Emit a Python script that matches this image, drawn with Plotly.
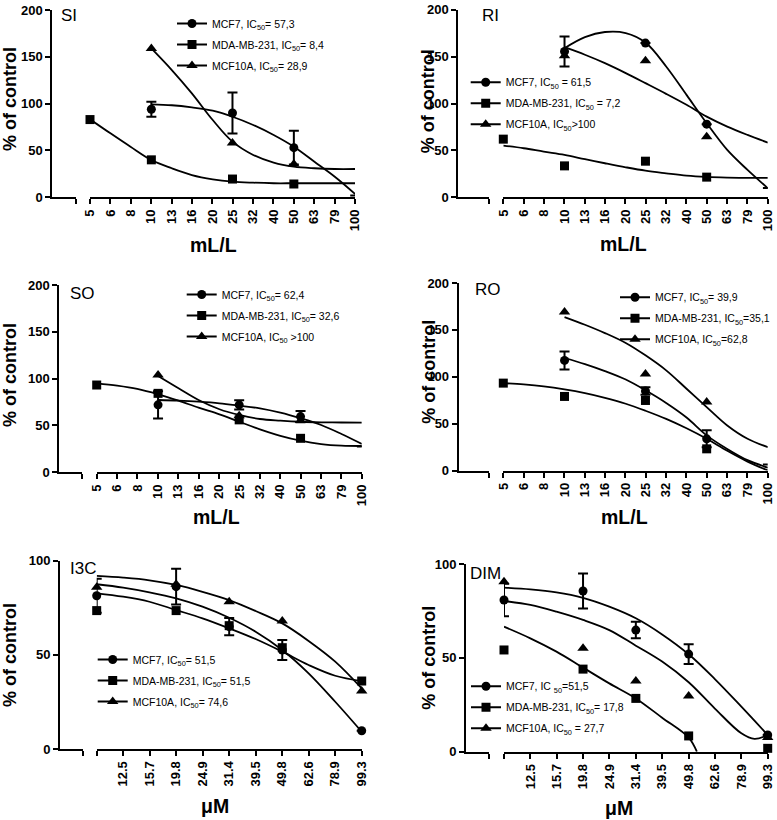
import math
import plotly.graph_objects as go

# ------------------------------------------------------------------ data
ML_TICK_LABELS = ["5", "6", "8", "10", "13", "16", "20", "25", "32", "40", "50", "63", "79", "100"]
UM_TICK_LABELS = ["", "12.5", "15.7", "19.8", "24.9", "31.4", "39.5", "49.8", "62.6", "78.9", "99.3"]

ML_DOSES = [5, 10, 25, 50, 100]
UM_DOSES = [9.93, 19.8, 31.4, 49.8, 99.3]

ML_FIT_X = [5, 6.3, 7.9, 10, 12.6, 15.8, 20, 25, 31.6, 39.8, 50, 63.1, 79.4, 100]
UM_FIT_X = [9.93, 12.5, 15.7, 19.8, 24.9, 31.4, 39.5, 49.8, 62.6, 78.9, 99.3]

CELL_LINES = ["MCF7", "MDA-MB-231", "MCF10A"]

# SI
SI_MCF7 = [None, 94, 90, 53, 2]
SI_MCF7_ERR = [None, 8, 22, 18, None]
SI_MDA = [83, 40, 19.5, 14.2, 13]
SI_MCF10A = [None, 159, 58, 35.5, 27.4]
SI_MCF7_FIT = [None, None, None, 99.3, 98.3, 96, 92.5, 86, 77.2, 66.5, 54, 38, 22, 3.5]
SI_MDA_FIT = [83.3, 68.3, 54, 39.8, 31, 23.8, 19.2, 16.7, 15.6, 15, 15, 15, 15, 15]
SI_MCF10A_FIT = [None, None, None, 159, 135.9, 111, 82.5, 59.4, 45.2, 37, 32.7, 31, 30.2, 30.2]
SI_LABELS = ["MCF7, IC<sub>50</sub>= 57,3", "MDA-MB-231, IC<sub>50</sub>= 8,4", "MCF10A, IC<sub>50</sub>= 28,9"]

# RI
RI_MCF7 = [None, 155.5, 164.4, 78, 10]
RI_MCF7_ERR = [None, 16, None, None, None]
RI_MDA = [62, 33.5, 38.5, 21.5, 19]
RI_MCF10A = [None, 151, 145.5, 64.5, 64.5]
RI_MCF7_FIT = [None, None, None, 159, 170.8, 176.2, 175.1, 165, 139.5, 109.2, 79, 50.5, 29.2, 9.6]
RI_MDA_FIT = [55.1, 52.3, 48.7, 45.2, 40.6, 36.3, 32, 28.4, 25.6, 23.1, 21.7, 21, 20.7, 20.7]
RI_MCF10A_FIT = [None, None, None, 160, 152, 143, 132.4, 121.7, 110.3, 98.6, 86, 75.4, 66.5, 58.3]
RI_LABELS = ["MCF7, IC<sub>50</sub> = 61,5", "MDA-MB-231, IC<sub>50</sub> = 7,2", "MCF10A, IC<sub>50</sub>&gt;100"]

# SO
SO_MCF7 = [None, 72, 72, 59.5, 27.5]
SO_MCF7_ERR = [None, 14.5, 5, 6, None]
SO_MDA = [93.2, 84.3, 56, 36.3, 31]
SO_MCF10A = [None, 104, 60.5, 55.2, 50.5]
SO_MCF7_FIT = [None, None, None, 77.2, 76.5, 75.4, 73.7, 71.2, 68.3, 63.7, 57.7, 50.5, 40.9, 30.2]
SO_MDA_FIT = [95, 92.5, 89, 83.3, 76.5, 69, 61.9, 54, 45.9, 39, 33.8, 30.2, 28.5, 28.1]
SO_MCF10A_FIT = [None, None, None, 102.8, 89.7, 77.2, 67.3, 61.2, 56.9, 55.2, 54, 53.4, 53.2, 53]
SO_LABELS = ["MCF7, IC<sub>50</sub>= 62,4", "MDA-MB-231, IC<sub>50</sub>= 32,6", "MCF10A, IC<sub>50</sub> &gt;100"]

# RO
RO_MCF7 = [None, 117.4, 84.7, 33.8, 6.4]
RO_MCF7_ERR = [None, 9.6, 4, 9, None]
RO_MDA = [93.2, 79, 74.7, 23.1, 0.7]
RO_MCF10A = [None, 169, 103, 73, 22.4]
RO_MCF7_FIT = [None, None, None, 120, 113.5, 106, 97, 85.5, 72, 56.5, 37.5, 23, 11, 3]
RO_MDA_FIT = [93.2, 91.8, 89.7, 86.5, 82.5, 77.5, 71.2, 63.7, 55, 45, 33.8, 21, 9.5, 0]
RO_MCF10A_FIT = [None, None, None, 163.7, 155.5, 146.6, 136, 122.8, 106.8, 87.2, 67.6, 48, 33.8, 24.9]
RO_LABELS = ["MCF7, IC<sub>50</sub>= 39,9", "MDA-MB-231, IC<sub>50</sub>=35,1", "MCF10A, IC<sub>50</sub>=62,8"]

# I3C
I3C_MCF7 = [81.4, 86.2, 65, 52.6, 9.7]
I3C_MCF7_ERR = [9, 9.5, 4.6, 5.3, None]
I3C_MDA = [73.5, 73.5, 65.5, 53.8, 36.1]
I3C_MCF10A = [85.9, 87.5, 78.2, 68, 30.8]
I3C_MCF7_FIT = [87.5, 85.7, 83.2, 80, 75.6, 69.7, 62.3, 52.6, 40.2, 25.1, 9.2]
I3C_MDA_FIT = [82.7, 80.9, 78.2, 73.8, 69.4, 64.1, 58.4, 51.7, 44.6, 38.9, 36.1]
I3C_MCF10A_FIT = [91.9, 91, 89.6, 87.1, 83.5, 79.1, 73.3, 66.7, 57.4, 46.4, 32.2]
I3C_LABELS = ["MCF7, IC<sub>50</sub>= 51,5", "MDA-MB-231, IC<sub>50</sub>= 51,5", "MCF10A, IC<sub>50</sub>= 74,6"]

# DIM
DIM_MCF7 = [80.8, 85.6, 64.8, 52, 8.9]
DIM_MCF7_ERR = [8.7, 9.3, 4.4, 5.3, None]
DIM_MDA = [54.2, 44, 28.4, 8.4, 1.8]
DIM_MCF10A = [90.6, 55.1, 37.7, 29.7, 7.5]
DIM_MCF7_FIT = [87.4, 86.5, 84.9, 82, 77.3, 71.1, 62.5, 51.9, 38.7, 24, 8.9]
DIM_MDA_FIT_X = [9.93, 12.5, 15.7, 19.8, 24.9, 31.4, 39.5, 49.8, 53.5]
DIM_MDA_FIT = [66.6, 60.4, 53.3, 44.8, 36.4, 28.4, 18.1, 7.5, 0]
DIM_MCF10A_FIT_X = [9.93, 12.5, 15.7, 19.8, 24.9, 31.4, 39.5, 49.8, 62.6, 78.9, 88.5, 99.3]
DIM_MCF10A_FIT = [80.3, 78.2, 74.6, 70.2, 64.8, 56.5, 48, 37, 23, 9.8, 6.8, 8.9]
DIM_LABELS = ["MCF7, IC <sub>50</sub>=51,5", "MDA-MB-231, IC<sub>50</sub>= 17,8", "MCF10A, IC<sub>50</sub> = 27,7"]

# ------------------------------------------------------------------ layout helpers
W, H = 777, 820
FONT = "Liberation Sans"
SYMBOLS = ["circle", "square", "triangle-up"]
SIZES = [9, 9, 10]
LEG_TEXT_OFF = 40     # distance from legend box left to legend text start (px)
LEG_TOP_OFF = 14      # distance from legend box top to first item centre (px)


def fx(px):
    return px / W


def fy(py):
    return 1 - py / H


ml_ticks = [5 * 10 ** (0.1 * k) for k in range(len(ML_TICK_LABELS))]
um_ticks = [9.93 * 10 ** (0.1 * k) for k in range(len(UM_TICK_LABELS))]

panels = [
    dict(name="SI", unit="mL/L", doses=ML_DOSES, ticks=ml_ticks, ticklabels=ML_TICK_LABELS, ymax=200,
         pts=[(SI_MCF7, SI_MCF7_ERR), (SI_MDA, None), (SI_MCF10A, None)],
         fits=[(ML_FIT_X, SI_MCF7_FIT), (ML_FIT_X, SI_MDA_FIT), (ML_FIT_X, SI_MCF10A_FIT)],
         labels=SI_LABELS,
         geo=dict(yx=52.3, se=76, m0=90, m1=355, y0=197.3, yt=10),
         tag=(58.5, 15), ytitle=(10, 99), xtitle=(213.5, 245), leg=(212, 23)),
    dict(name="RI", unit="mL/L", doses=ML_DOSES, ticks=ml_ticks, ticklabels=ML_TICK_LABELS, ymax=200,
         pts=[(RI_MCF7, RI_MCF7_ERR), (RI_MDA, None), (RI_MCF10A, None)],
         fits=[(ML_FIT_X, RI_MCF7_FIT), (ML_FIT_X, RI_MDA_FIT), (ML_FIT_X, RI_MCF10A_FIT)],
         labels=RI_LABELS,
         geo=dict(yx=458.3, se=489.3, m0=503.3, m1=767.7, y0=197.3, yt=9.7),
         tag=(479.5, 15), ytitle=(428.3, 101), xtitle=(623, 244.5), leg=(505.7, 81.7)),
    dict(name="SO", unit="mL/L", doses=ML_DOSES, ticks=ml_ticks, ticklabels=ML_TICK_LABELS, ymax=200,
         pts=[(SO_MCF7, SO_MCF7_ERR), (SO_MDA, None), (SO_MCF10A, None)],
         fits=[(ML_FIT_X, SO_MCF7_FIT), (ML_FIT_X, SO_MDA_FIT), (ML_FIT_X, SO_MCF10A_FIT)],
         labels=SO_LABELS,
         geo=dict(yx=59.3, se=81.7, m0=96.7, m1=361.7, y0=472.3, yt=285),
         tag=(68.3, 293.3), ytitle=(10, 375), xtitle=(216.7, 516.7), leg=(221.7, 294)),
    dict(name="RO", unit="mL/L", doses=ML_DOSES, ticks=ml_ticks, ticklabels=ML_TICK_LABELS, ymax=200,
         pts=[(RO_MCF7, RO_MCF7_ERR), (RO_MDA, None), (RO_MCF10A, None)],
         fits=[(ML_FIT_X, RO_MCF7_FIT), (ML_FIT_X, RO_MDA_FIT), (ML_FIT_X, RO_MCF10A_FIT)],
         labels=RO_LABELS,
         geo=dict(yx=458.7, se=489.3, m0=503.3, m1=767.7, y0=470.5, yt=283),
         tag=(472.7, 289), ytitle=(428.7, 372), xtitle=(624, 516.7), leg=(655, 296.7)),
    dict(name="I3C", unit="μM", doses=UM_DOSES, ticks=um_ticks, ticklabels=UM_TICK_LABELS, ymax=100,
         pts=[(I3C_MCF7, I3C_MCF7_ERR), (I3C_MDA, None), (I3C_MCF10A, None)],
         fits=[(UM_FIT_X, I3C_MCF7_FIT), (UM_FIT_X, I3C_MDA_FIT), (UM_FIT_X, I3C_MCF10A_FIT)],
         labels=I3C_LABELS,
         geo=dict(yx=60, se=82.7, m0=96.7, m1=361.7, y0=749, yt=560.7),
         tag=(68.3, 568.3), ytitle=(10, 655), xtitle=(215, 806), leg=(132.7, 659)),
    dict(name="DIM", unit="μM", doses=UM_DOSES, ticks=um_ticks, ticklabels=UM_TICK_LABELS, ymax=100,
         pts=[(DIM_MCF7, DIM_MCF7_ERR), (DIM_MDA, None), (DIM_MCF10A, None)],
         fits=[(UM_FIT_X, DIM_MCF7_FIT), (DIM_MDA_FIT_X, DIM_MDA_FIT), (DIM_MCF10A_FIT_X, DIM_MCF10A_FIT)],
         labels=DIM_LABELS,
         geo=dict(yx=466, se=489, m0=504, m1=767.7, y0=751.7, yt=564),
         tag=(468.3, 573.3), ytitle=(428.3, 657.5), xtitle=(619, 808), leg=(506, 685.7)),
]

fig = go.Figure()
layout = {}
annotations = []
axis_common = dict(showline=True, linewidth=2, linecolor="black", showgrid=False, zeroline=False,
                   ticks="outside", ticklen=5, tickwidth=2, tickcolor="black", fixedrange=True,
                   automargin=False)
tickfont = dict(family=FONT, size=13, color="black", weight="bold")

for i, p in enumerate(panels, start=1):
    xa = "x" if i == 1 else f"x{i}"
    xs = f"x{i + 6}"
    ya = "y" if i == 1 else f"y{i}"
    leg = "legend" if i == 1 else f"legend{i}"
    g = p["geo"]

    # empty trace so that the short (broken) x-axis segment is drawn
    fig.add_trace(go.Scatter(x=[None], y=[None], xaxis=xs, yaxis=ya, showlegend=False,
                             mode="markers", hoverinfo="skip"))

    # fitted curves
    for cx, cy in p["fits"]:
        fig.add_trace(go.Scatter(
            x=cx, y=cy, mode="lines", xaxis=xa, yaxis=ya, showlegend=False, cliponaxis=False,
            line=dict(color="black", width=1.8, shape="spline", smoothing=1.0), hoverinfo="skip"))

    # data points
    for (vals, err), sym, size, cl in zip(p["pts"], SYMBOLS, SIZES, CELL_LINES):
        tr = dict(x=p["doses"], y=vals, mode="markers", xaxis=xa, yaxis=ya, showlegend=False,
                  cliponaxis=False, name=cl, marker=dict(symbol=sym, size=size, color="black"))
        if err is not None:
            tr["error_y"] = dict(type="data", array=err, visible=True, color="black", thickness=2, width=5)
        fig.add_trace(go.Scatter(**tr))

    # legend entries
    for lab, sym, size, cl in zip(p["labels"], SYMBOLS, SIZES, CELL_LINES):
        fig.add_trace(go.Scatter(
            x=[None], y=[None], mode="lines+markers", name=lab, xaxis=xa, yaxis=ya,
            legend=leg, legendgroup=f"{p['name']}-{cl}",
            line=dict(color="black", width=2), marker=dict(symbol=sym, size=size, color="black")))

    # axes
    t = p["ticks"]
    eps = 1e-6
    layout["xaxis" if i == 1 else f"xaxis{i}"] = dict(
        axis_common, domain=[fx(g["m0"]), fx(g["m1"])], type="log", anchor=ya,
        range=[math.log10(t[0]) - eps, math.log10(t[-1]) + eps],
        tickmode="array", tickvals=t, ticktext=p["ticklabels"], tickangle=-90, tickfont=tickfont)
    layout[f"xaxis{i + 6}"] = dict(
        axis_common, domain=[fx(g["yx"]), fx(g["se"])], range=[0, 1], anchor=ya,
        tickmode="array", tickvals=[1], showticklabels=False)
    yt = [0, 50, 100, 150, 200] if p["ymax"] == 200 else [0, 50, 100]
    layout["yaxis" if i == 1 else f"yaxis{i}"] = dict(
        axis_common, domain=[fy(g["y0"]), fy(g["yt"])], range=[0, p["ymax"]], anchor=xs,
        side="left", tickmode="array", tickvals=yt, tickfont=tickfont)

    # legend box
    layout[leg] = dict(x=fx(p["leg"][0] - LEG_TEXT_OFF), y=fy(p["leg"][1] - LEG_TOP_OFF),
                       xanchor="left", yanchor="top",
                       bgcolor="rgba(0,0,0,0)", borderwidth=0, tracegroupgap=2,
                       font=dict(family=FONT, size=10.5, color="black"))

    # texts
    annotations.append(dict(text=p["name"], x=fx(p["tag"][0]), y=fy(p["tag"][1]), xref="paper", yref="paper",
                            xanchor="left", yanchor="middle", showarrow=False,
                            font=dict(family=FONT, size=17, color="black")))
    annotations.append(dict(text="% of control", x=fx(p["ytitle"][0]), y=fy(p["ytitle"][1]),
                            xref="paper", yref="paper", textangle=-90, xanchor="center", yanchor="middle",
                            showarrow=False, font=dict(family=FONT, size=18, color="black", weight="bold")))
    annotations.append(dict(text=p["unit"], x=fx(p["xtitle"][0]), y=fy(p["xtitle"][1]),
                            xref="paper", yref="paper", xanchor="center", yanchor="middle",
                            showarrow=False, font=dict(family=FONT, size=19.5, color="black", weight="bold")))

fig.update_layout(**layout)
fig.update_layout(template="none", width=W, height=H, margin=dict(l=0, r=0, t=0, b=0, pad=0),
                  paper_bgcolor="white", plot_bgcolor="white", showlegend=True, annotations=annotations,
                  font=dict(family=FONT, color="black"), hovermode=False)
fig.write_html("out.html", config={"displayModeBar": False},
               post_script="document.body.style.margin='0px';document.body.style.padding='0px';")
